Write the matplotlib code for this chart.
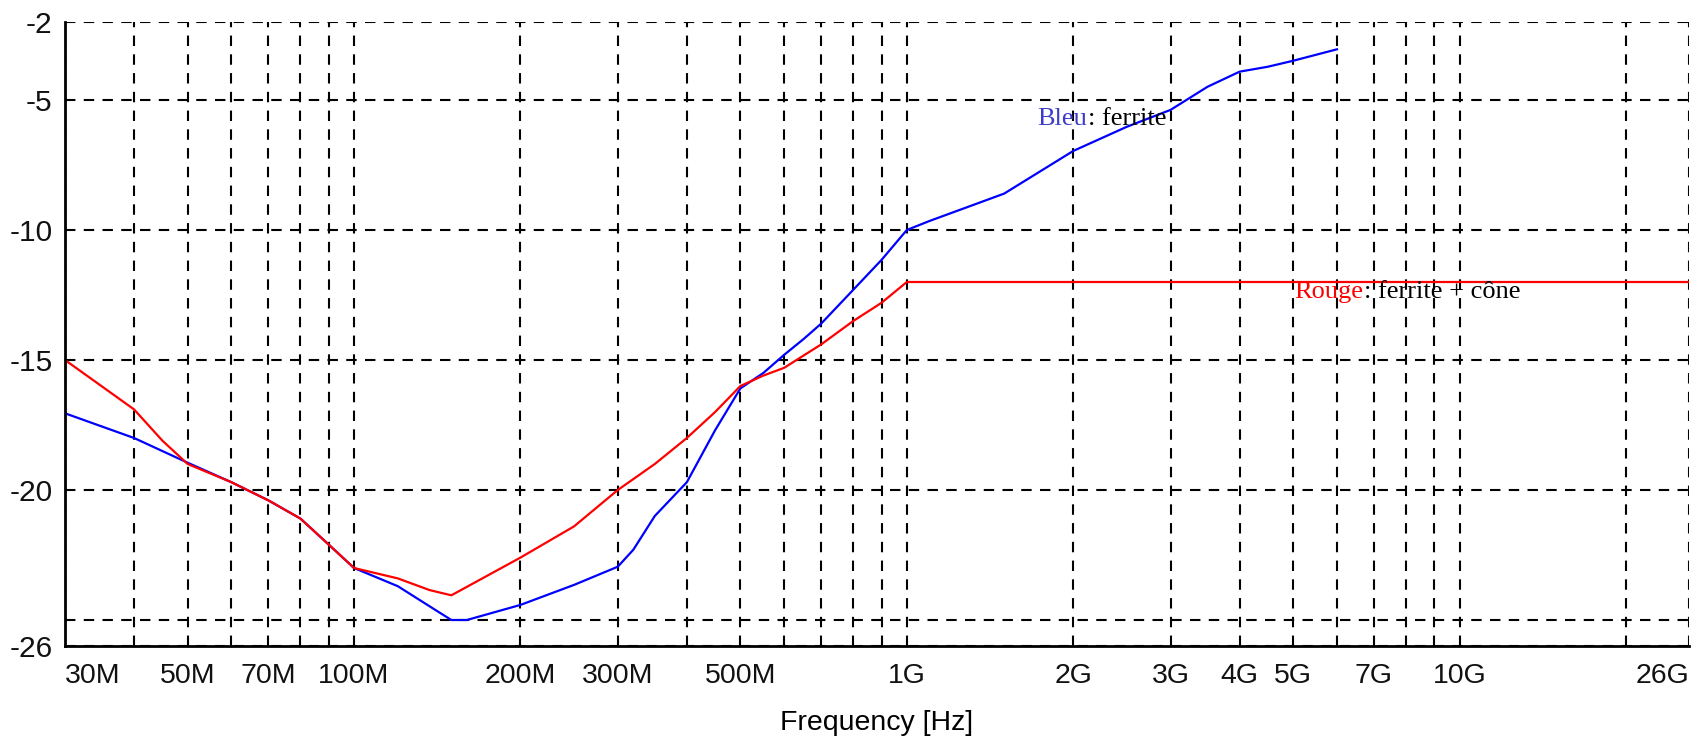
import numpy as np
import matplotlib.pyplot as plt
from matplotlib.ticker import FixedLocator, FixedFormatter, NullLocator

# blue: ferrite alone (MHz, dB)
freq_blue = [30, 40, 50, 60, 70, 80, 90, 100, 120, 140, 150, 160, 200, 250, 300,
             320, 350, 400, 450, 500, 550, 600, 650, 700, 800, 900, 1000, 1100,
             1500, 2000, 2500, 3000, 3500, 4000, 4500, 5000, 6000]
loss_blue = [-17.05, -18.0, -18.95, -19.7, -20.4, -21.1, -22.1, -23.0, -23.7, -24.6,
             -25.0, -25.0, -24.42, -23.65, -22.95, -22.3, -21.0, -19.7, -17.7, -16.09,
             -15.5, -14.8, -14.2, -13.6, -12.3, -11.15, -10.0, -9.65, -8.6, -6.96,
             -6.03, -5.38, -4.49, -3.91, -3.72, -3.49, -3.05]

# red: ferrite + cone
freq_red = [30, 40, 45, 50, 60, 70, 80, 90, 100, 120, 137, 150, 200, 250, 300, 350,
            400, 450, 500, 550, 600, 700, 800, 900, 1000, 26000]
loss_red = [-15.0, -16.9, -18.1, -19.0, -19.7, -20.4, -21.1, -22.1, -23.0, -23.4,
            -23.85, -24.05, -22.6, -21.4, -20.0, -19.0, -18.0, -17.0, -16.0, -15.6,
            -15.3, -14.4, -13.5, -12.8, -12.0, -12.0]

grid_freqs = [30, 40, 50, 60, 70, 80, 90, 100, 200, 300, 400, 500, 600, 700, 800, 900,
              1000, 2000, 3000, 4000, 5000, 6000, 7000, 8000, 9000, 10000, 20000, 26000]
grid_labels = ['30M', '', '50M', '', '70M', '', '', '100M', '200M', '300M', '', '500M',
               '', '', '', '', '1G', '2G', '3G', '4G', '5G', '', '7G', '', '', '10G', '', '26G']
y_ticks = [-26, -25, -20, -15, -10, -5, -2]
y_labels = ['-26', '', '-20', '-15', '-10', '-5', '-2']

plt.rcParams['font.family'] = ['Liberation Sans', 'DejaVu Sans']

fig = plt.figure(figsize=(17, 7.41), dpi=100)
ax = fig.add_axes([65/1700, 1-646/741, (1689-65)/1700, (646-22)/741])

ax.plot(np.array(freq_blue)*1e6, loss_blue, color='#0000ff', lw=1.6, zorder=3)
ax.plot(np.array(freq_red)*1e6, loss_red, color='#ff0000', lw=1.6, zorder=3)

ax.set_xscale('log')
ax.set_xlim(30e6, 26e9)
ax.set_ylim(-26, -2)
ax.xaxis.set_major_locator(FixedLocator(np.array(grid_freqs)*1e6))
ax.xaxis.set_major_formatter(FixedFormatter(grid_labels))
ax.xaxis.set_minor_locator(NullLocator())
ax.yaxis.set_major_locator(FixedLocator(y_ticks))
ax.yaxis.set_major_formatter(FixedFormatter(y_labels))
ax.tick_params(length=0, labelsize=20.5, colors='#111111')
ax.tick_params(axis='x', pad=12)
ax.tick_params(axis='y', pad=9, labelsize=21.5)
xl = ax.get_xticklabels()
xl[0].set_ha('left')
xl[-1].set_ha('right')

ax.grid(True, color='black', lw=1.5, linestyle=(0, (5, 4)))
for s in ['top', 'right']:
    ax.spines[s].set_visible(False)
for s in ['left', 'bottom']:
    ax.spines[s].set_linewidth(2)
    ax.spines[s].set_zorder(4)

ax.set_xlabel('Frequency [Hz]', fontsize=20.5, labelpad=15)

t1 = ax.text(1.725e9, -6.15, 'Bleu', color='#3c3cc8', family='Liberation Serif',
             fontsize=19, va='bottom', zorder=5)
ax.annotate(': ferrite', xy=(1, 0), xycoords=t1, va='bottom', color='black',
            family='Liberation Serif', fontsize=19, zorder=5)
t2 = ax.text(5.03e9, -12.81, 'Rouge', color='#ff0000', family='Liberation Serif',
             fontsize=19, va='bottom', zorder=5)
ax.annotate(': ferrite + cône', xy=(1, 0), xycoords=t2, va='bottom', color='black',
            family='Liberation Serif', fontsize=19, zorder=5)

fig.savefig('out.png', dpi=100)
